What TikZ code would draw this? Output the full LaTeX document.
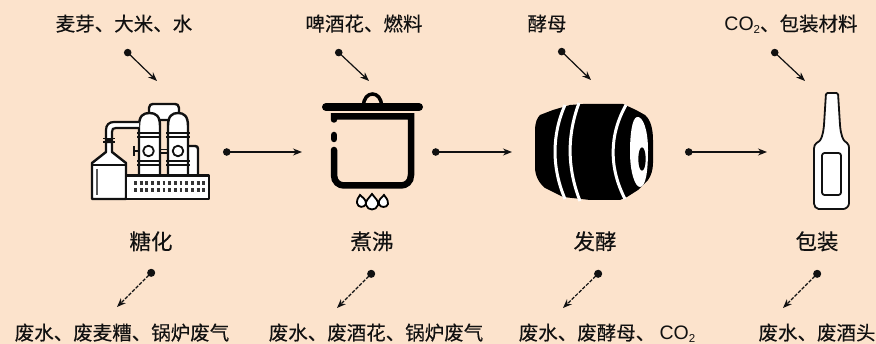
\documentclass[tikz,border=0pt]{standalone}
\usepackage{fontspec}
\setmainfont[FakeBold=0.25]{Noto Sans CJK SC}
\newfontfamily\latn{Liberation Sans}
\usetikzlibrary{arrows.meta}
\definecolor{bgc}{HTML}{FCE3CC}
\definecolor{ink}{HTML}{111111}
\newcommand{\cotwo}{{\latn CO\raisebox{-0.12em}{\fontsize{11.5}{12}\selectfont 2}}}
\tikzset{
 lbl/.style={inner sep=0pt,anchor=base,font=\fontsize{19.5}{21}\selectfont,text=ink},
 stage/.style={inner sep=0pt,anchor=base,font=\fontsize{21.5}{23}\selectfont,text=ink},
 flow/.style={draw=ink,line width=1.2pt,{Circle[length=7.5pt]}-{Stealth[length=9pt,width=7pt]}},
 waste/.style={draw=ink,line width=1.2pt,dash pattern=on 3.5pt off 1.5pt,{Circle[length=8pt]}-{Stealth[length=9pt,width=7pt]}},
 icon/.style={draw=ink,line width=2.4pt,fill=white,line join=round},
 iconthin/.style={draw=ink,line width=1.8pt,fill=white,line join=round}
}
\begin{document}
\begin{tikzpicture}[x=1pt,y=-1pt]
\useasboundingbox[fill=bgc] (0,0) rectangle (876,344);
% top labels
\node[lbl] (ia) at (124,31) {麦芽、大米、水};
\node[lbl] (ib) at (364,31) {啤酒花、燃料};
\node[lbl] (ic) at (547,31) {酵母};
\node[lbl] (id) at (791,31) {\cotwo、包装材料};
% stage labels
\node[stage] (sa) at (151,249.5) {糖化};
\node[stage] (sb) at (372,249.5) {煮沸};
\node[stage] (sc) at (595,249.5) {发酵};
\node[stage] (sd) at (817,249.5) {包装};
% bottom labels
\node[lbl] (oa) at (122,340) {废水、废麦糟、锅炉废气};
\node[lbl] (ob) at (376,340) {废水、废酒花、锅炉废气};
\node[lbl] (oc) at (607,340) {废水、废酵母、 \cotwo};
\node[lbl] (od) at (817,340) {废水、废酒头};
% connector anchors
\foreach \n/\x/\y in {a1/125/50,a2/157/81,b1/336/50,b2/369/81,c1/559/49,c2/591/80,d1/772/50,d2/805/81,
 h1/223/152,h2/302/152,h3/432/152,h4/512/152,h5/685/152,h6/767/152,
 w1/154/270,w2/117/307,w3/374/271,w4/337/308,w5/601/271,w6/563/308,w7/820/271,w8/783/308}
 \coordinate (\n) at (\x,\y);
\draw[flow] (a1)--(a2);
\draw[flow] (b1)--(b2);
\draw[flow] (c1)--(c2);
\draw[flow] (d1)--(d2);
\draw[flow] (h1)--(h2);
\draw[flow] (h3)--(h4);
\draw[flow] (h5)--(h6);
\draw[waste] (w1)--(w2);
\draw[waste] (w3)--(w4);
\draw[waste] (w5)--(w6);
\draw[waste] (w7)--(w8);
% icon 1: mash plant
\begin{scope}
\draw[icon] (149,120) -- (149,108) .. controls (149,105) and (151,104) .. (153,104) -- (175,104) .. controls (177,104) and (179,105) .. (179,108) -- (179,120) -- cycle;
\draw[icon] (198,176) -- (198,149) .. controls (198,147) and (197,146) .. (195,146) -- (186,146) -- (186,176);
\draw[icon] (139,176) -- (139,126) .. controls (139,116) and (143,113) .. (149.5,113) .. controls (156,113) and (160,116) .. (160,126) -- (160,176) -- cycle;
\draw[icon] (168,176) -- (168,126) .. controls (168,116) and (172,113) .. (178,113) .. controls (184,113) and (188,116) .. (188,126) -- (188,176) -- cycle;
\draw[ink,line width=2pt] (137,133) -- (161,133) (137,137) -- (161,137) (166,133) -- (190,133) (166,137) -- (190,137);
\draw[ink,line width=2pt] (137,161) -- (161,161) (137,165) -- (161,165) (166,161) -- (190,161) (166,165) -- (190,165);
\draw[ink,line width=1.8pt] (160,149.5) -- (168,149.5) (160,153) -- (168,153);
\draw[iconthin] (148.5,151) circle (5.3pt);
\draw[iconthin] (178,151) circle (5.3pt);
\draw[ink,line width=2pt] (139,151) -- (134,151) (134,146) -- (134,156);
\draw[ink,line width=2.2pt,fill=white] (139,122) -- (114,122) .. controls (109,122) and (106,125) .. (106,130) -- (106,140) -- (112,140) -- (112,132) .. controls (112,129) and (113,128) .. (116,128) -- (139,128);
\draw[ink,line width=1.8pt] (103,138.5) -- (115,138.5) (103,142) -- (115,142);
\draw[icon] (106,142) -- (106,152) -- (92,163) -- (92,199) -- (126,199) -- (126,163) -- (112,152) -- (112,142) -- cycle;
\draw[ink,line width=2pt] (92,165) -- (126,165);
\draw[ink!70,line width=2pt] (96.5,169) -- (96.5,195);
\draw[icon] (126,175.5) rectangle (209,199);
\draw[ink!85,line width=3.6pt,dash pattern=on 2.8pt off 2.9pt] (134,183) -- (206,183) (134,190) -- (206,190);
\end{scope}
% icon 2: pot
\begin{scope}
\draw[draw=black,line width=3.5pt,fill=none] (363.5,106) .. controls (363.5,90) and (381.5,90) .. (381.5,106);
\draw[black,line width=8pt,line cap=round] (326,107) -- (419,107);
\draw[black,line width=6.5pt,line cap=round,line join=miter] (334,119.5) -- (334,116.5) -- (411,116.5) -- (411,175) .. controls (411,182) and (406,185.5) .. (401,185.5) -- (344,185.5) .. controls (339,185.5) and (334,182) .. (334,175) -- (334,150);
\draw[black,line width=6.5pt,line cap=round] (334,135) -- (334,139);
\fill[white,draw=black,line width=1.8pt] (360,195) .. controls (362,198) and (366,198) .. (366,204) .. controls (364,208) and (358,208) .. (357,203) .. controls (357,199) and (358,198) .. (360,195) -- cycle;
\fill[white,draw=black,line width=1.8pt] (384,195) .. controls (386,198) and (388,199) .. (388,204) .. controls (387,208) and (380,208) .. (379,204) .. controls (378,199) and (382,198) .. (384,195) -- cycle;
\fill[white,draw=black,line width=1.8pt] (372,194) .. controls (375,198) and (379,201) .. (378,205) .. controls (376,211) and (368,211) .. (366,205) .. controls (365,201) and (369,198) .. (372,194) -- cycle;
\end{scope}
% icon 3: barrel
\begin{scope}
\fill[black] (570,105) -- (583,104) -- (623,104) -- (636,110) -- (645,115) .. controls (651,120) and (653,130) .. (653,140) -- (653,163) .. controls (653,170) and (651,176) .. (648,180) -- (638,190) -- (627,197) -- (620,200) -- (590,200) -- (563,197) -- (545,188) .. controls (539,183) and (535,176) .. (535,167) -- (535,130) .. controls (535,123) and (537,118) .. (540,115) -- (553,110) -- cycle;
\draw[white,line width=3pt] (565,105) .. controls (551.7,135) and (551.7,168) .. (565,199);
\draw[white,line width=3pt] (579,103) .. controls (567,135) and (567,168) .. (580,201);
\draw[white,line width=3pt] (626,105) .. controls (609,135) and (609,168) .. (625,199);
\fill[white] (637,117) .. controls (632,118) and (630,135) .. (630,152) .. controls (630,172) and (635,187) .. (640,187) .. controls (646,187) and (648,170) .. (648,150) .. controls (648,130) and (643,116) .. (637,117) -- cycle;
\fill[black] (642,159) ellipse (3.7pt and 11.7pt);
\end{scope}
% icon 4: bottle
\begin{scope}
\draw[iconthin,rounded corners=1.5pt] (826,93) -- (838,93) -- (840,125) .. controls (841,135) and (843,140) .. (846,142) .. controls (849,145) and (849,146) .. (849,150) -- (849,202) .. controls (849,206) and (846,209) .. (842,209) -- (820,209) .. controls (816,209) and (814,206) .. (814,202) -- (814,150) .. controls (814,146) and (815,144) .. (818,142) .. controls (821,140) and (823,135) .. (824,125) -- cycle;
\draw[iconthin,fill=none,rounded corners=2.5pt] (822,153) rectangle (841,195);
\end{scope}
\end{tikzpicture}
\end{document}
